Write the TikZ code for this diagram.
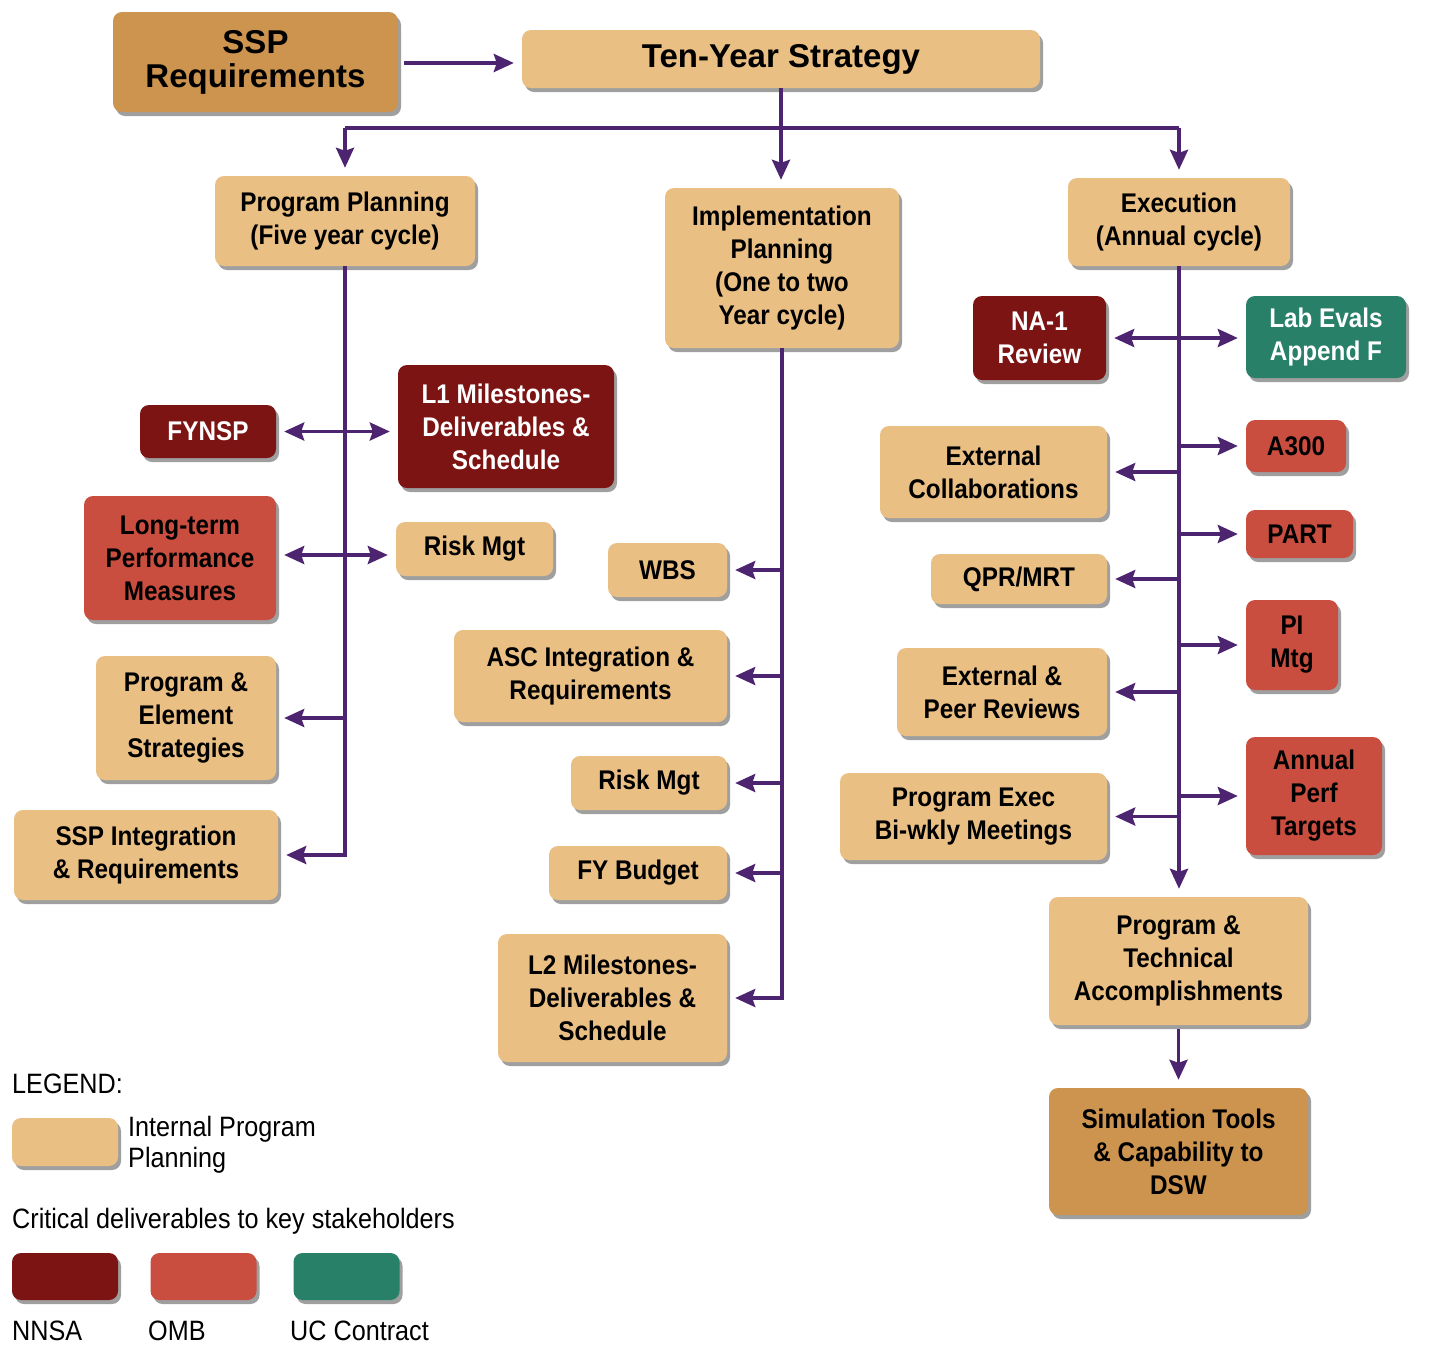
\documentclass[tikz,border=0pt]{standalone}
\usepackage{fontspec}
\setmainfont{Liberation Sans}
\newfontfamily\narrowsans[FakeStretch=0.9]{Liberation Sans}
\usepackage{xcolor}
\usepackage{tikz}
\usetikzlibrary{arrows.meta, shadows}
\definecolor{plantan}{RGB}{234,191,132}
\definecolor{darktan}{RGB}{204,148,78}
\definecolor{nnsared}{RGB}{124,20,20}
\definecolor{ombred}{RGB}{202,78,64}
\definecolor{ucgreen}{RGB}{40,128,104}
\definecolor{linkpurple}{RGB}{76,36,112}

\begin{document}
\begin{tikzpicture}[x=1pt,y=-1pt]
\tikzstyle{every node}+=[inner sep=0pt]
\tikzstyle{box}=[rounded corners=9pt, align=center, text=black,
  font=\narrowsans\bfseries\fontsize{27}{33}\selectfont,
  drop shadow={shadow xshift=3pt, shadow yshift=-4pt, opacity=0.5, fill=black!75}]
\tikzstyle{plan}=[box, fill=plantan]
\tikzstyle{core}=[box, fill=darktan]
\tikzstyle{topfont}=[font=\bfseries\fontsize{33}{34}\selectfont]
\tikzstyle{nnsa}=[box, fill=nnsared, text=white]
\tikzstyle{omb}=[box, fill=ombred]
\tikzstyle{uc}=[box, fill=ucgreen, text=white]
\tikzstyle{keytext}=[font=\narrowsans\fontsize{28}{31}\selectfont, align=left]
\tikzstyle{trunk}=[draw=linkpurple, line width=3.5pt]
\tikzstyle{flow}=[trunk, -{Stealth[length=20pt,width=18pt,inset=3pt]}, shorten >=8pt]
\tikzstyle{twoway}=[trunk, {Stealth[length=20pt,width=18pt,inset=3pt]}-{Stealth[length=20pt,width=18pt,inset=3pt]}, shorten >=8pt, shorten <=8pt]

\fill[white] (0,0) rectangle (1443,1345);
\useasboundingbox (0,0) rectangle (1443,1345);

\node[core, topfont, minimum width=285pt, minimum height=100pt] (ssp) at (255.5,62) {SSP\\Requirements};
\node[plan, topfont, minimum width=518pt, minimum height=58pt] (tys) at (781,59) {Ten-Year Strategy};

\node[plan, minimum width=260pt, minimum height=90pt] (pp) at (345,221) {Program Planning\\(Five year cycle)};
\node[plan, minimum width=234pt, minimum height=160pt] (ip) at (782,268) {Implementation\\Planning\\(One to two\\Year cycle)};
\node[plan, minimum width=222pt, minimum height=88pt] (ex) at (1179,222) {Execution\\(Annual cycle)};

% program planning branch
\node[nnsa, minimum width=136pt, minimum height=53pt] (fynsp) at (208,431.5) {FYNSP};
\node[nnsa, minimum width=216pt, minimum height=123pt] (lone) at (506,426.5) {L1 Milestones-\\Deliverables \&\\Schedule};
\node[omb, minimum width=192pt, minimum height=124pt] (ltpm) at (180,558) {Long-term\\Performance\\Measures};
\node[plan, minimum width=157pt, minimum height=54pt] (riskl) at (474.5,549) {Risk Mgt};
\node[plan, minimum width=180pt, minimum height=124pt] (pes) at (186,718) {Program \&\\Element\\Strategies};
\node[plan, minimum width=264pt, minimum height=90pt] (sspi) at (146,855) {SSP Integration\\\& Requirements};

% implementation branch
\node[plan, minimum width=119pt, minimum height=54pt] (wbs) at (667.5,570) {WBS};
\node[plan, minimum width=273pt, minimum height=92pt] (asc) at (590.5,676) {ASC Integration \&\\Requirements};
\node[plan, minimum width=156pt, minimum height=54pt] (riskm) at (649,783) {Risk Mgt};
\node[plan, minimum width=178pt, minimum height=54pt] (fyb) at (638,873) {FY Budget};
\node[plan, minimum width=229pt, minimum height=128pt] (ltwo) at (612.5,998) {L2 Milestones-\\Deliverables \&\\Schedule};

% execution branch
\node[nnsa, minimum width=133pt, minimum height=84pt] (na) at (1039.5,338) {NA-1\\Review};
\node[uc, minimum width=160pt, minimum height=82pt] (lab) at (1326,337) {Lab Evals\\Append F};
\node[omb, minimum width=100pt, minimum height=52pt] (athree) at (1296,446) {A300};
\node[plan, minimum width=227pt, minimum height=92pt] (extc) at (993.5,472) {External\\Collaborations};
\node[omb, minimum width=107pt, minimum height=48pt] (part) at (1299.5,534) {PART};
\node[plan, minimum width=176pt, minimum height=50pt] (qpr) at (1019,579) {QPR/MRT};
\node[omb, minimum width=92pt, minimum height=90pt] (pim) at (1292,645) {PI\\Mtg};
\node[plan, minimum width=210pt, minimum height=88pt] (extp) at (1002,692) {External \&\\Peer Reviews};
\node[omb, minimum width=136pt, minimum height=118pt] (apt) at (1314,796) {Annual\\Perf\\Targets};
\node[plan, minimum width=267pt, minimum height=87pt] (pexec) at (973.5,816.5) {Program Exec\\Bi-wkly Meetings};
\node[plan, minimum width=259pt, minimum height=128pt] (pta) at (1178.5,961) {Program \&\\Technical\\Accomplishments};
\node[core, minimum width=259pt, minimum height=127pt] (sim) at (1178.5,1151.5) {Simulation Tools\\\& Capability to\\DSW};

% legend
\node[keytext, anchor=base west] (keyhead) at (12,1093) {LEGEND:};
\node[plan, minimum width=106pt, minimum height=48pt] (keyplan) at (65,1142) {};
\node[keytext, anchor=west] (keyplantext) at (128,1145) {Internal Program\\Planning};
\node[keytext, anchor=base west] (keycrit) at (12,1228) {Critical deliverables to key stakeholders};
\node[nnsa, minimum width=106pt, minimum height=47pt] (keynnsa) at (65,1276.5) {};
\node[omb, minimum width=106pt, minimum height=47pt] (keyomb) at (203.5,1276.5) {};
\node[uc, minimum width=106pt, minimum height=47pt] (keyuc) at (346.5,1276.5) {};
\node[keytext, anchor=base west] (keynnsatext) at (12,1340) {NNSA};
\node[keytext, anchor=base west] (keyombtext) at (148,1340) {OMB};
\node[keytext, anchor=base west] (keyuctext) at (290,1340) {UC Contract};

% connectors
\draw[flow, shorten <=6pt] (ssp.east |- 0,63) -- (tys.west |- 0,63);
\coordinate (split) at (781,128);
\draw[flow] (tys.south) -- (tys.south |- ip.north);
\draw[trunk] (split -| pp.north) -- (split -| ex.north);
\draw[flow] (split -| pp.north) -- (pp.north);
\draw[flow] (split -| ex.north) -- (ex.north);

\draw[flow] (pp.south) |- (sspi.east);
\draw[twoway] (fynsp.east) -- (fynsp.east -| lone.west);
\draw[twoway] (ltpm.east |- 0,555) -- (riskl.west |- 0,555);
\draw[flow] (pp.south |- pes.east) -- (pes.east);

\draw[flow] (ip.south) |- (ltwo.east);
\foreach \n in {wbs, asc, riskm, fyb}
  \draw[flow] (ip.south |- \n.east) -- (\n.east);

\draw[flow] (ex.south) -- (ex.south |- pta.north);
\draw[twoway] (na.east) -- (na.east -| lab.west);
\foreach \n in {athree, part, pim, apt}
  \draw[flow] (ex.south |- \n.west) -- (\n.west);
\foreach \n in {extc, qpr, extp, pexec}
  \draw[flow] (ex.south |- \n.east) -- (\n.east);
\draw[flow, shorten <=4pt] (pta.south) -- (sim.north);
\end{tikzpicture}
\end{document}
